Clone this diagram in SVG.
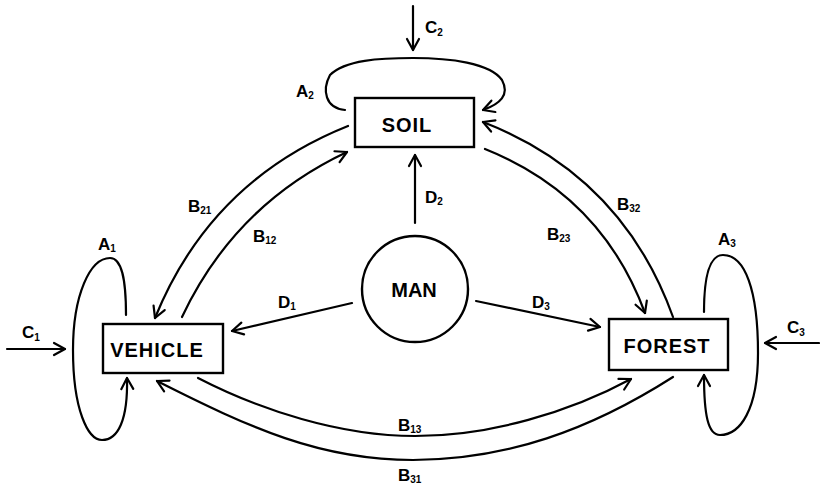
<svg xmlns="http://www.w3.org/2000/svg" width="820" height="488" viewBox="0 0 820 488">
<style>
.box{fill:#fff;stroke:#000;stroke-width:2.4}
.ln{fill:none;stroke:#000;stroke-width:2.2;stroke-linecap:round}
.arr{marker-end:url(#ah)}
.nt{font-family:"Liberation Sans","DejaVu Sans",sans-serif;font-weight:bold;font-size:20px;letter-spacing:1px;text-anchor:middle;fill:#000}
.lb{font-family:"Liberation Sans","DejaVu Sans",sans-serif;font-weight:bold;font-size:17px;fill:#000}
.sb{font-size:10px}
</style>
<defs>
<marker id="ah" viewBox="-14 -8 16 16" refX="0" refY="0" markerWidth="16" markerHeight="16" orient="auto" markerUnits="userSpaceOnUse">
<path d="M-11,-6 L0,0 L-11,6" fill="none" stroke="#000" stroke-width="2.2" stroke-linecap="round" stroke-linejoin="round"/>
</marker>
</defs>
<rect width="820" height="488" fill="#fff"/>
<g id="connectors">
<line class="ln arr" x1="7" y1="349" x2="65" y2="349"/>
<line class="ln arr" x1="413" y1="6" x2="413" y2="50"/>
<line class="ln arr" x1="819" y1="343" x2="765" y2="343"/>
<line class="ln arr" x1="352" y1="303" x2="232" y2="331"/>
<line class="ln arr" x1="415" y1="223" x2="415" y2="155"/>
<line class="ln arr" x1="476" y1="301" x2="600" y2="327"/>
<path class="ln arr" d="M348,126 Q210.6,180.9 155,318"/>
<path class="ln arr" d="M182,317 Q234.8,204.8 347,152"/>
<path class="ln arr" d="M673,317 Q622.4,176.2 483,122"/>
<path class="ln arr" d="M485,149 Q601.5,195.4 645,313"/>
<path class="ln arr" d="M198,378 C260,410 340,436 415,436 C490,436 570,412 631,379"/>
<path class="ln arr" d="M673,377 C590,430 506,460 413,460 C320,460 250,428 157,381"/>
<path class="ln arr" d="M126,315 C126,280 122,258 110,258 C90,258 73,295 73,350 C73,410 88,440 102,440 C118,440 128,420 127,378"/>
<path class="ln arr" d="M345,110 C325,108 322,90 330,75 C345,60 380,58 413,58 C450,58 490,63 502,80 C510,95 500,104 483,110"/>
<path class="ln arr" d="M704,312 C704,280 708,255 723,255 C745,255 758,290 758,353 C758,410 740,435 720,435 C708,435 704,415 704,375"/>
</g>
<g id="labels">
<text class="lb" x="22" y="338">C<tspan class="sb" dy="3">1</tspan></text>
<text class="lb" x="425" y="33">C<tspan class="sb" dy="3">2</tspan></text>
<text class="lb" x="787" y="333">C<tspan class="sb" dy="3">3</tspan></text>
<text class="lb" x="98" y="250">A<tspan class="sb" dy="2">1</tspan></text>
<text class="lb" x="296" y="97">A<tspan class="sb" dy="2">2</tspan></text>
<text class="lb" x="718" y="245">A<tspan class="sb" dy="2">3</tspan></text>
<text class="lb" x="278" y="308">D<tspan class="sb" dy="2">1</tspan></text>
<text class="lb" x="425" y="203">D<tspan class="sb" dy="2">2</tspan></text>
<text class="lb" x="532" y="308">D<tspan class="sb" dy="2">3</tspan></text>
<text class="lb" x="188" y="212">B<tspan class="sb" dy="2">21</tspan></text>
<text class="lb" x="253" y="242">B<tspan class="sb" dy="2">12</tspan></text>
<text class="lb" x="617" y="210">B<tspan class="sb" dy="2">32</tspan></text>
<text class="lb" x="547" y="240">B<tspan class="sb" dy="2">23</tspan></text>
<text class="lb" x="398" y="431">B<tspan class="sb" dy="2">13</tspan></text>
<text class="lb" x="398" y="481">B<tspan class="sb" dy="2">31</tspan></text>
</g>
<g id="soil">
<rect class="box" x="355" y="98" width="119" height="49"/>
<text class="nt" x="407" y="132">SOIL</text>
</g>
<g id="vehicle">
<rect class="box" x="103" y="324" width="120" height="49"/>
<text class="nt" x="157" y="357">VEHICLE</text>
</g>
<g id="forest">
<rect class="box" x="609" y="319" width="119" height="51"/>
<text class="nt" x="667" y="353">FOREST</text>
</g>
<g id="man">
<circle class="box" cx="415" cy="289" r="53"/>
<text class="nt" x="414" y="297" style="letter-spacing:0">MAN</text>
</g>
</svg>
